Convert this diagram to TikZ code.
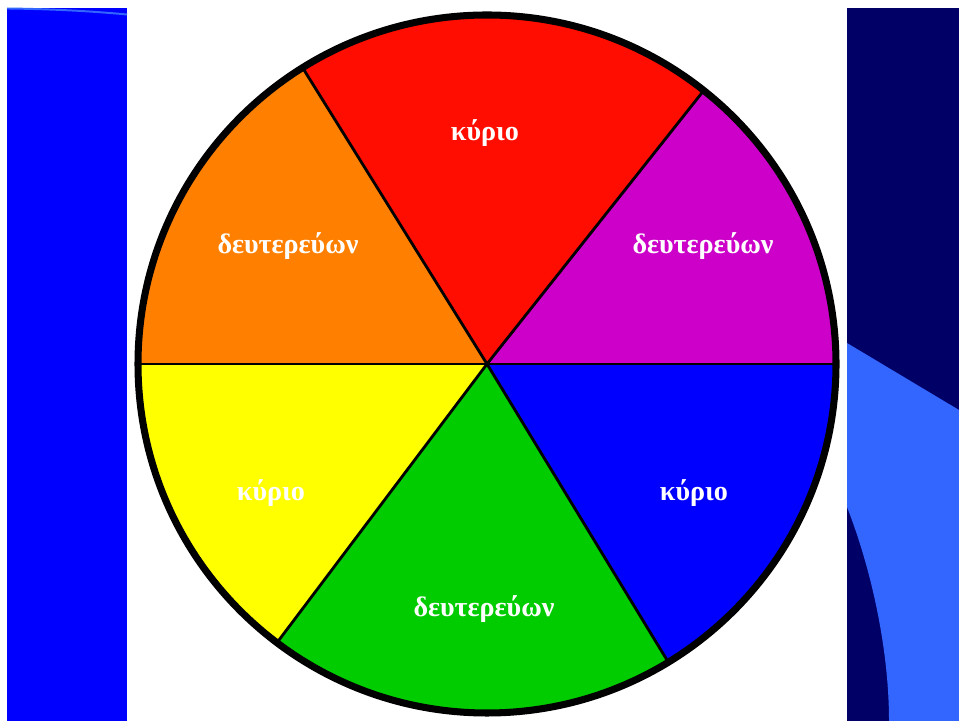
\documentclass[tikz,border=0pt]{standalone}
\usepackage{fontspec}
\setmainfont{Liberation Serif}
\definecolor{stripblue}{HTML}{0000FF}
\definecolor{navyband}{HTML}{000066}
\definecolor{skyblue}{HTML}{3366FF}
\definecolor{wred}{HTML}{FF0D00}
\definecolor{worange}{HTML}{FF8000}
\definecolor{wyellow}{HTML}{FFFF00}
\definecolor{wgreen}{HTML}{00CC00}
\definecolor{wblue}{HTML}{0000FF}
\definecolor{wmagenta}{HTML}{CC00C8}
\tikzset{
  spoke/.style={draw=black, line width=2pt},
  rim/.style={draw=black, line width=5pt},
  lbl/.style={font=\fontsize{20}{24}\selectfont\bfseries, text=white, inner sep=0pt},
}

\begin{document}
\begin{tikzpicture}[x=0.025cm,y=0.025cm]
  \useasboundingbox (0,0) rectangle (959,721);
  \fill[white] (0,0) rectangle (959,721);
  % side bands
  \fill[stripblue] (7,0) rectangle (127,713);
  \draw[skyblue, line width=1.4pt] (7,712.5) .. controls (50,712) and (90,710) .. (127,706.5);
  \fill[navyband] (847,0) rectangle (959,713);
  \fill[skyblue] (847,378) -- (959,311) -- (959,0) -- (889,0) .. controls (889,70) and (872,150) .. (847,214) -- cycle;
  % colour wheel
  \coordinate (c) at (487,357);
  \fill[wmagenta] (c) -- ++(0:349) arc[start angle=0, end angle=51.6, radius=349] -- cycle;
  \fill[wred] (c) -- ++(51.6:349) arc[start angle=51.6, end angle=121.9, radius=349] -- cycle;
  \fill[worange] (c) -- ++(121.9:349) arc[start angle=121.9, end angle=180, radius=349] -- cycle;
  \fill[wyellow] (c) -- ++(180:349) arc[start angle=180, end angle=233, radius=349] -- cycle;
  \fill[wgreen] (c) -- ++(233:349) arc[start angle=233, end angle=301.3, radius=349] -- cycle;
  \fill[wblue] (c) -- ++(301.3:349) arc[start angle=301.3, end angle=360, radius=349] -- cycle;
  \draw[spoke] (c) -- ++(0:349);
  \draw[spoke] (c) -- ++(51.6:349);
  \draw[spoke] (c) -- ++(121.9:349);
  \draw[spoke] (c) -- ++(180:349);
  \draw[spoke] (c) -- ++(233:349);
  \draw[spoke] (c) -- ++(301.3:349);
  \draw[rim] (c) circle[radius=349];
  % labels
  \node[lbl] (kyrioTop) at (485,588) {κύριο};
  \node[lbl] (devLeft) at (288,475) {δευτερεύων};
  \node[lbl] (devRight) at (703,475) {δευτερεύων};
  \node[lbl] (kyrioLeft) at (271,228) {κύριο};
  \node[lbl] (kyrioRight) at (694,228) {κύριο};
  \node[lbl] (devBottom) at (484,112) {δευτερεύων};
\end{tikzpicture}
\end{document}
